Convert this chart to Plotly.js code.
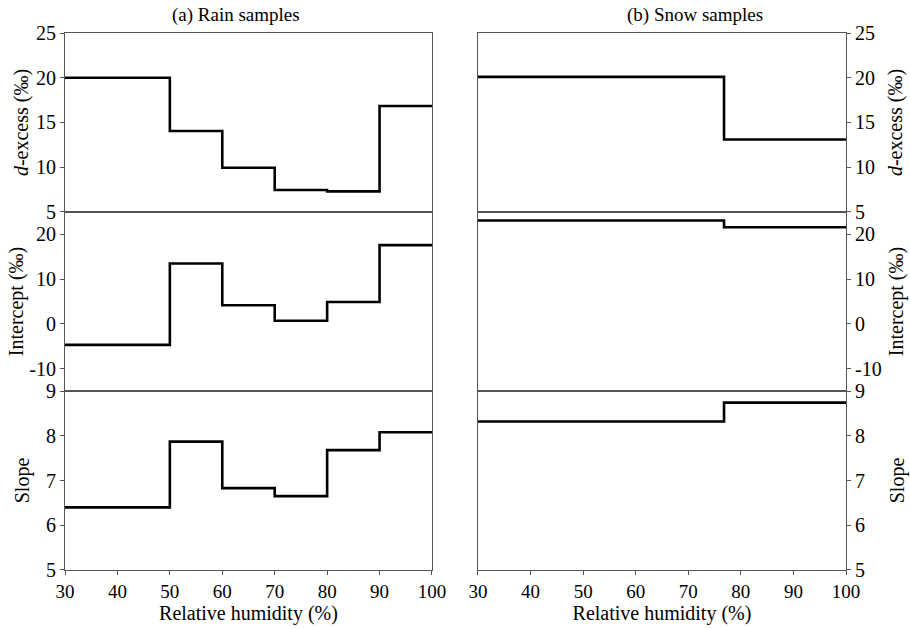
<!DOCTYPE html>
<html>
<head>
<meta charset="utf-8">
<script src="https://cdn.plot.ly/plotly-3.0.1.min.js"></script>
<style>html,body{margin:0;padding:0;background:#fff;}#chart{width:910px;height:629px;}</style>
</head>
<body>
<div id="chart"></div>
<script>
// Rain samples: bin edges of relative humidity (%) and values per bin
const rainRH = [30, 50, 60, 70, 80, 90, 100];
const rainDexcess = [20.0, 14.05, 9.95, 7.45, 7.3, 16.85];
const rainIntercept = [-4.7, 13.5, 4.15, 0.7, 4.9, 17.6];
const rainSlope = [6.4, 7.87, 6.83, 6.65, 7.68, 8.08];

// Snow samples
const snowRH = [30, 76.8, 100];
const snowDexcess = [20.1, 13.1];
const snowIntercept = [23.1, 21.6];
const snowSlope = [8.32, 8.74];

// Ticks
const xTicks = [30, 40, 50, 60, 70, 80, 90, 100];
const dexTicks = [5, 10, 15, 20, 25];
const intTicks = [-10, 0, 10, 20];
const intTickText = ["-10", "0", "10", "20"];
const slopeTicks = [5, 6, 7, 8, 9];

const titleA = "(a) Rain samples";
const titleB = "(b) Snow samples";
const xTitle = "Relative humidity (%)";
const yTitles = ["<i>d</i>-excess (‰)", "Intercept (‰)", "Slope"];

const FONT = "Liberation Serif";

function stepY(vals) { return vals.concat([vals[vals.length - 1]]); }

function tr(x, vals, i) {
  return {
    x: x, y: stepY(vals), type: "scatter", mode: "lines",
    line: {shape: "hv", color: "#000", width: 2.6},
    xaxis: "x" + (i === 1 ? "" : i), yaxis: "y" + (i === 1 ? "" : i),
    showlegend: false, hoverinfo: "x+y"
  };
}

const data = [
  tr(rainRH, rainDexcess, 1),
  tr(rainRH, rainIntercept, 2),
  tr(rainRH, rainSlope, 3),
  tr(snowRH, snowDexcess, 4),
  tr(snowRH, snowIntercept, 5),
  tr(snowRH, snowSlope, 6)
];

const LC = "#555";
const xDomL = [0, 0.4699], xDomR = [0.5288, 1];
const yDoms = [[0.6667, 1], [0.3333, 0.6667], [0, 0.3333]];
const yRanges = [[5, 25], [-15, 25], [5, 9]];
const yTickVals = [dexTicks, intTicks, slopeTicks];
const yTickText = [dexTicks.map(String), intTickText, slopeTicks.map(String)];
const standoffL = [1, 0, 10];
const standoffR = [14, 8, 26];

function xax(i, dom, bottom) {
  const a = {
    domain: dom, range: [30, 100], anchor: "y" + (i === 1 ? "" : i),
    showline: true, mirror: true, linecolor: LC, linewidth: 1,
    showgrid: false, zeroline: false, automargin: false,
    tickvals: xTicks, ticks: bottom ? "outside" : "", ticklen: 4, tickcolor: LC,
    showticklabels: bottom, tickfont: {family: FONT, size: 19, color: "#000"}
  };
  if (bottom) a.title = {text: xTitle, font: {family: FONT, size: 20, color: "#000"}, standoff: 2};
  return a;
}
function yax(i, row, right) {
  return {
    domain: yDoms[row], range: yRanges[row],
    tickvals: yTickVals[row], ticktext: yTickText[row],
    anchor: "x" + (i === 1 ? "" : i), side: right ? "right" : "left",
    showline: true, mirror: true, linecolor: LC, linewidth: 1,
    showgrid: false, zeroline: false, automargin: false,
    ticks: "outside", ticklen: 4, tickcolor: LC,
    tickfont: {family: FONT, size: 20, color: "#000"},
    title: {text: yTitles[row], font: {family: FONT, size: 20, color: "#000"},
            standoff: right ? standoffR[row] : standoffL[row]}
  };
}

const layout = {
  width: 910, height: 629,
  margin: {l: 65, r: 64, t: 33, b: 59},
  paper_bgcolor: "#fff", plot_bgcolor: "#fff",
  font: {family: FONT, size: 19, color: "#000"},
  showlegend: false,
  xaxis: xax(1, xDomL, false), xaxis2: xax(2, xDomL, false), xaxis3: xax(3, xDomL, true),
  xaxis4: xax(4, xDomR, false), xaxis5: xax(5, xDomR, false), xaxis6: xax(6, xDomR, true),
  yaxis: yax(1, 0, false), yaxis2: yax(2, 1, false), yaxis3: yax(3, 2, false),
  yaxis4: yax(4, 0, true), yaxis5: yax(5, 1, true), yaxis6: yax(6, 2, true),
  annotations: [
    {text: titleA, xref: "paper", yref: "paper", x: 0.219, y: 1.0335, xanchor: "center", yanchor: "middle", showarrow: false, font: {family: FONT, size: 19, color: "#000"}},
    {text: titleB, xref: "paper", yref: "paper", x: 0.8067, y: 1.0335, xanchor: "center", yanchor: "middle", showarrow: false, font: {family: FONT, size: 19, color: "#000"}}
  ]
};

Plotly.newPlot("chart", data, layout, {displayModeBar: false, staticPlot: true});
</script>
</body>
</html>
